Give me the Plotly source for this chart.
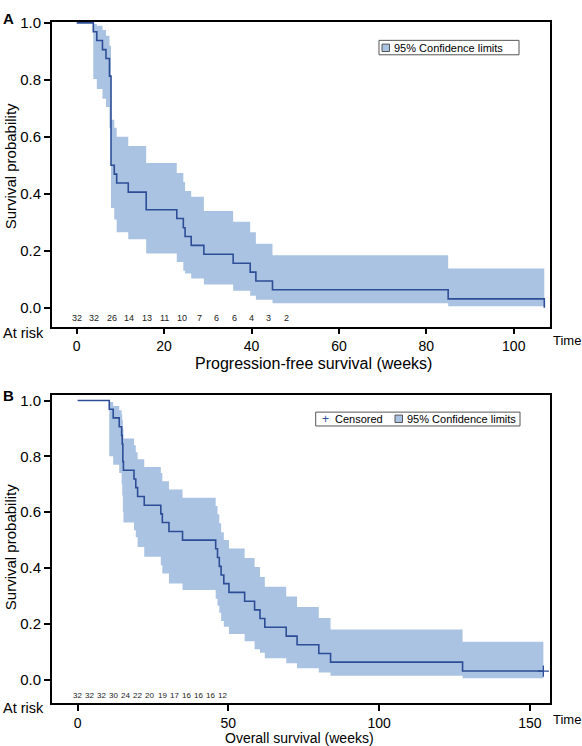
import plotly.graph_objects as go

W, H = 582, 746

# ---------------- Panel A: progression-free survival ----------------
pfs_time = [0, 3.8, 4.6, 5.9, 6.7, 7.5, 7.85, 8.6, 9.15, 11.8, 15.9, 22.9, 24.4, 24.8,
            26.2, 29.1, 35.8, 39.7, 41.0, 44.8, 85.0, 107.0]
pfs_surv = [1.0, 0.969, 0.938, 0.906, 0.875, 0.813, 0.5, 0.469, 0.438, 0.406, 0.344, 0.313,
            0.281, 0.25, 0.219, 0.188, 0.156, 0.125, 0.094, 0.063, 0.031, 0.0]
pfs_upper = [1.0, 0.996, 0.99, 0.975, 0.955, 0.92, 0.66, 0.632, 0.60, 0.568, 0.508, 0.473,
             0.441, 0.41, 0.39, 0.34, 0.302, 0.265, 0.225, 0.184, 0.138]
pfs_lower = [1.0, 0.803, 0.768, 0.734, 0.705, 0.63, 0.35, 0.31, 0.265, 0.24, 0.19, 0.161,
             0.13, 0.12, 0.103, 0.082, 0.06, 0.042, 0.028, 0.016, 0.005]
pfs_band_end = 107.0
pfs_risk_weeks = [0, 4, 8, 12, 16, 20, 24, 28, 32, 36, 40, 44, 48]
pfs_risk_n = [32, 32, 26, 14, 13, 11, 10, 7, 6, 6, 4, 3, 2]
pfs_xticks = [0, 20, 40, 60, 80, 100]

# ---------------- Panel B: overall survival ----------------
os_time = [0, 10.5, 11.8, 13.8, 14.6, 14.8, 15.0, 15.2, 18.7, 19.3, 19.9, 22.1, 27.6, 28.1,
           30.3, 34.8, 45.8, 46.4, 47.0, 47.6, 48.5, 50.2, 55.4, 58.7, 60.5, 62.1, 69.2,
           72.8, 80.0, 83.9, 127.7]
os_surv = [1.0, 0.969, 0.938, 0.906, 0.875, 0.844, 0.781, 0.75, 0.719, 0.688, 0.656, 0.625,
           0.594, 0.563, 0.531, 0.5, 0.469, 0.438, 0.406, 0.375, 0.344, 0.313, 0.281, 0.25,
           0.219, 0.188, 0.156, 0.125, 0.094, 0.063, 0.031]
os_upper = [1.0, 0.995, 0.98, 0.965, 0.95, 0.93, 0.90, 0.864, 0.84, 0.815, 0.79, 0.762, 0.74,
            0.711, 0.681, 0.652, 0.622, 0.593, 0.56, 0.528, 0.50, 0.47, 0.436, 0.404, 0.368,
            0.333, 0.298, 0.26, 0.221, 0.18, 0.136]
os_lower = [1.0, 0.80, 0.77, 0.74, 0.70, 0.66, 0.60, 0.563, 0.535, 0.51, 0.475, 0.44, 0.41,
            0.38, 0.345, 0.321, 0.29, 0.265, 0.24, 0.21, 0.19, 0.164, 0.138, 0.109, 0.097,
            0.077, 0.059, 0.041, 0.026, 0.014, 0.005]
os_censor_time = [154.5]
os_censor_surv = [0.031]
os_risk_weeks = [0, 4, 8, 12, 16, 20, 24, 28, 32, 36, 40, 44, 48]
os_risk_n = [32, 32, 32, 30, 24, 22, 20, 19, 17, 16, 16, 16, 12]
os_xticks = [0, 50, 100, 150]
y_ticks = [0.0, 0.2, 0.4, 0.6, 0.8, 1.0]

LINE = "#2d4e96"
BAND = "#aac3e2"
FONT = "Liberation Sans, Arial, sans-serif"


def px_x(p):
    return p / W


def px_y(p):
    return 1 - p / H


fig = go.Figure()


def add_panel(t, s, up, lo, band_end, xa, ya, name_suffix):
    bx = list(t[:len(up)]) + [band_end]
    fig.add_trace(go.Scatter(x=bx, y=list(up) + [up[-1]], mode="lines", line=dict(width=0, shape="hv"),
                             hoverinfo="skip", showlegend=False, xaxis=xa, yaxis=ya))
    fig.add_trace(go.Scatter(x=bx, y=list(lo) + [lo[-1]], mode="lines", line=dict(width=0, shape="hv"),
                             fill="tonexty", fillcolor=BAND, hoverinfo="skip", showlegend=False,
                             name="95% Confidence limits " + name_suffix, xaxis=xa, yaxis=ya))
    fig.add_trace(go.Scatter(x=t, y=s, mode="lines", line=dict(color=LINE, width=1.6, shape="hv"),
                             showlegend=False, name="Survival " + name_suffix, xaxis=xa, yaxis=ya))


add_panel(pfs_time, pfs_surv, pfs_upper, pfs_lower, pfs_band_end, "x", "y", "A")
add_panel(os_time + [os_censor_time[0]], os_surv + [os_surv[-1]], os_upper, os_lower,
          os_censor_time[0], "x2", "y2", "B")
fig.add_trace(go.Scatter(x=os_censor_time, y=os_censor_surv, mode="markers",
                         marker=dict(symbol="cross-thin", size=8, line=dict(color=LINE, width=1.3)),
                         showlegend=False, xaxis="x2", yaxis="y2"))

xdom = [px_x(52), px_x(550)]
axis_common = dict(showline=True, linecolor="black", linewidth=1.7, mirror=True,
                   showgrid=False, zeroline=False, ticks="outside", ticklen=6, tickwidth=1.7,
                   tickcolor="black")
yfont = dict(family=FONT, size=15, color="black")
xfont = dict(family=FONT, size=14, color="black")

fig.update_layout(
    width=W, height=H, margin=dict(l=0, r=0, t=0, b=0),
    paper_bgcolor="white", plot_bgcolor="white", showlegend=False,
    xaxis=dict(domain=xdom, range=[-5.65, 108.3], tickvals=pfs_xticks, anchor="y",
               tickfont=xfont, **axis_common),
    yaxis=dict(domain=[px_y(322), px_y(14)], range=[-0.066, 1.0035], tickvals=y_ticks,
               tickformat=".1f", anchor="x", tickfont=yfont, **axis_common),
    xaxis2=dict(domain=xdom, range=[-8.5, 156.7], tickvals=os_xticks, anchor="y2",
                tickfont=xfont, **axis_common),
    yaxis2=dict(domain=[px_y(702.7), px_y(391.7)], range=[-0.084, 1.018], tickvals=y_ticks,
                tickformat=".1f", anchor="x2", tickfont=yfont, **axis_common),
)

ann = []
# at-risk numbers
for w, n in zip(pfs_risk_weeks, pfs_risk_n):
    ann.append(dict(x=w, y=-0.035, xref="x", yref="y", text=str(n), showarrow=False,
                    font=dict(family=FONT, size=9, color="#222")))
for w, n in zip(os_risk_weeks, os_risk_n):
    ann.append(dict(x=w, y=-0.057, xref="x2", yref="y2", text=str(n), showarrow=False,
                    font=dict(family=FONT, size=8, color="#222")))


def text(xp, yp, s, size, xanchor="center", angle=0, bold=False):
    ann.append(dict(x=px_x(xp), y=px_y(yp), xref="paper", yref="paper", text=("<b>%s</b>" % s) if bold else s,
                    showarrow=False, xanchor=xanchor, yanchor="middle", textangle=angle,
                    font=dict(family=FONT, size=size, color="black")))


text(1, 11, "A", 15, "left", bold=True)
text(1, 392, "B", 15, "left", bold=True)
text(10, 160, "Survival probability", 15, angle=-90)
text(10, 545, "Survival probability", 15, angle=-90)
text(1, 329, "At risk", 14.5, "left")
text(1, 708, "At risk", 14.5, "left")
text(551, 336, "Time", 13, "left")
text(551, 719, "Time", 13, "left")
text(313, 359, "Progression-free survival (weeks)", 16)
text(300, 737.5, "Overall survival (weeks)", 14)

# legend A
shapes = []
shapes.append(dict(type="rect", xref="paper", yref="paper", x0=px_x(379), x1=px_x(519),
                   y0=px_y(47.3), y1=px_y(32.7), line=dict(color="#555", width=1), fillcolor="white"))
shapes.append(dict(type="rect", xref="paper", yref="paper", x0=px_x(382), x1=px_x(389.5),
                   y0=px_y(44), y1=px_y(36.5), line=dict(color="#555", width=1), fillcolor=BAND))
text(391.5, 40.2, "95% Confidence limits", 11, "left")

# legend B
shapes.append(dict(type="rect", xref="paper", yref="paper", x0=px_x(315.7), x1=px_x(520),
                   y0=px_y(422.5), y1=px_y(408.5), line=dict(color="#555", width=1), fillcolor="white"))
shapes.append(dict(type="rect", xref="paper", yref="paper", x0=px_x(395), x1=px_x(402.5),
                   y0=px_y(419), y1=px_y(411.5), line=dict(color="#555", width=1), fillcolor=BAND))
ann.append(dict(x=px_x(325), y=px_y(415.5), xref="paper", yref="paper", text="+", showarrow=False,
                xanchor="center", yanchor="middle", font=dict(family=FONT, size=12, color=LINE)))
text(333, 415.5, "Censored", 11, "left")
text(404.5, 415.5, "95% Confidence limits", 11, "left")

fig.update_layout(annotations=ann, shapes=shapes)
fig.write_html("out.html", config={"displayModeBar": False},
               post_script="document.body.style.margin='0';document.body.style.padding='0';"
                           "document.documentElement.style.overflow='hidden';")
